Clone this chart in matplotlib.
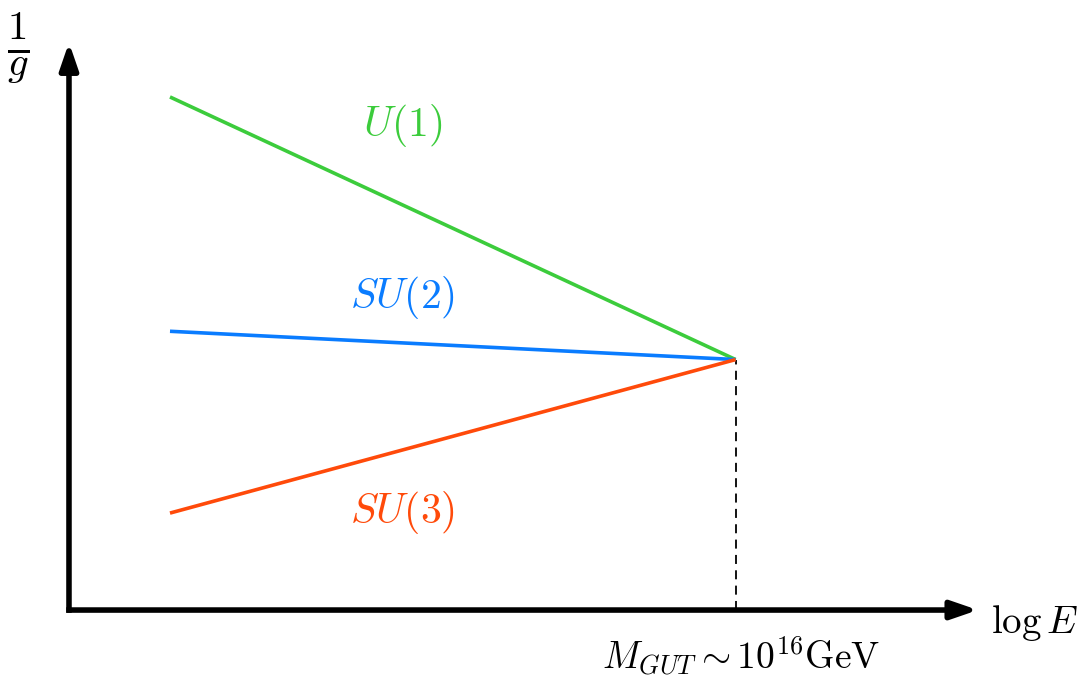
import matplotlib
matplotlib.use("Agg")
import matplotlib.pyplot as plt

plt.rcParams['mathtext.fontset'] = 'cm'
plt.rcParams['font.family'] = 'DejaVu Serif'

# energy axis (arbitrary log E units) and inverse couplings
x_start = 1.0
x_gut = 6.6
names = [r'$U(1)$', r'$SU(2)$', r'$SU(3)$']
colors = ['#3ccc3c', '#0a7cff', '#ff4a0a']
inv_g_start = [5.08, 2.76, 0.96]
inv_g_gut = 2.48
label_pos = [(3.3, 4.80), (3.3, 3.09), (3.3, 0.97)]

fig = plt.figure(figsize=(10.78, 6.77), dpi=100)
ax = fig.add_axes([0, 0, 1, 1])
ax.set_xlim(-0.683, 9.99)
ax.set_ylim(-0.663, 6.04)
ax.axis('off')

# axes with arrows
arr = dict(arrowstyle='-|>,head_length=1.6,head_width=0.55', lw=4,
           color='black', shrinkA=0, shrinkB=0, capstyle='butt')
ax.annotate('', xy=(9.0, 0), xytext=(-0.027, 0), arrowprops=arr)
ax.annotate('', xy=(0, 5.62), xytext=(0, -0.027), arrowprops=arr)

# dashed marker at the unification scale
ax.plot([x_gut, x_gut], [0, inv_g_gut], color='black', lw=1.3,
        dashes=(5, 3.5), zorder=1)

for name, c, y0, (lx, ly) in zip(names, colors, inv_g_start, label_pos):
    ax.plot([x_start, x_gut], [y0, inv_g_gut], color=c, lw=2.6,
            solid_capstyle='butt', zorder=2)
    ax.text(lx, ly, name, color=c, fontsize=30, ha='center', va='center')

ax.text(-0.5, 5.56, r'$\frac{1}{g}$', fontsize=42, ha='center', va='center')
ax.text(9.56, -0.13, r'$\log E$', fontsize=28, ha='center', va='center')
ax.text(6.65, -0.46, r'$M_{GUT} \sim 10^{16}\mathrm{GeV}$', fontsize=27,
        ha='center', va='center')

fig.savefig('out.png', dpi=100)
